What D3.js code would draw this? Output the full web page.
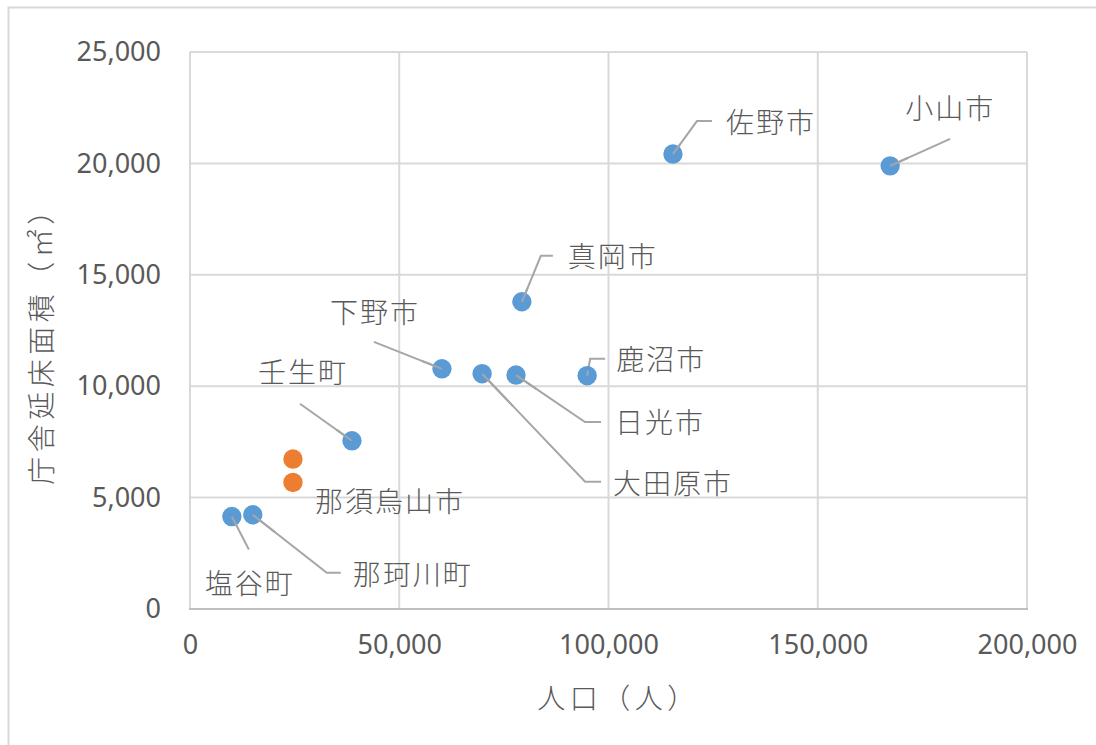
<!DOCTYPE html>
<html>
<head>
<meta charset="utf-8">
<script src="https://cdn.jsdelivr.net/npm/d3@7"></script>
<style>
  html, body { margin: 0; padding: 0; background: #fff; }
  svg { display: block; }
  text { fill: #595959; }
  .num { font-family: "Noto Sans", "Open Sans", sans-serif; font-size: 27px; }
  .jp { font-family: "Noto Sans CJK JP", "Noto Sans CJK SC", sans-serif; font-size: 28px; font-weight: 300; letter-spacing: 2px; }
  .title { letter-spacing: 4.5px; }
</style>
</head>
<body>
<svg id="chart" width="1096" height="745"></svg>
<script>
// Municipalities: population (x) and government building floor area in m² (y)
const names = ["塩谷町", "那珂川町", "那須烏山市", "那須烏山市", "壬生町", "下野市", "大田原市", "日光市", "鹿沼市", "真岡市", "佐野市", "小山市"];
const population = [10000, 15000, 24600, 24600, 38700, 60200, 69800, 77900, 94900, 79300, 115400, 167300];
const floorArea = [4150, 4230, 6730, 5680, 7550, 10780, 10560, 10500, 10470, 13790, 20420, 19890];
const series = [0, 0, 1, 1, 0, 0, 0, 0, 0, 0, 0, 0];
const showLabel = [true, true, false, true, true, true, true, true, true, true, true, true];

const xTicks = [0, 50000, 100000, 150000, 200000];
const yTicks = [0, 5000, 10000, 15000, 20000, 25000];
const xTitle = "人口（人）";
const yTitle = "庁舎延床面積（㎡）";

// Label placement (pixel offsets from the marker): text start + leader polyline
const labelLayout = [
  { dx: -27, dy: 65, leader: [[17, 33]] },
  { dx: 100, dy: 58, leader: [[74, 58], [88, 58]] },
  null,
  { dx: 22, dy: 18, leader: [] },
  { dx: -94, dy: -70, leader: [[-52, -37]] },
  { dx: -112, dy: -58, leader: [[-68, -27]] },
  { dx: 131, dy: 108, leader: [[103, 108], [119, 108]] },
  { dx: 99, dy: 46, leader: [[69, 47], [85, 47]] },
  { dx: 29, dy: -18, leader: [[3, -17], [18, -17]] },
  { dx: 46, dy: -47, leader: [[19, -46], [31, -46]] },
  { dx: 53, dy: -33, leader: [[24, -33], [39, -33]] },
  { dx: 15, dy: -59, leader: [[60, -27]] }
];

const seriesColors = ["#5b9bd5", "#ed7d31"];

const svg = d3.select("#chart");
const plot = { left: 190, right: 1027, top: 52, bottom: 609 };

const x = d3.scaleLinear().domain([0, 200000]).range([plot.left, plot.right]);
const y = d3.scaleLinear().domain([0, 25000]).range([plot.bottom, plot.top]);
const fmt = d3.format(",");

// chart area border
svg.append("rect")
  .attr("x", 8.5).attr("y", 7.5)
  .attr("width", 1100).attr("height", 760)
  .attr("fill", "#fff").attr("stroke", "#d9d9d9").attr("stroke-width", 2);

// gridlines
const grid = svg.append("g");
grid.selectAll("line.h").data(yTicks.filter(d => d > 0)).join("line")
  .attr("x1", plot.left).attr("x2", plot.right)
  .attr("y1", d => y(d)).attr("y2", d => y(d))
  .attr("stroke", "#d9d9d9").attr("stroke-width", 2);
grid.selectAll("line.v").data(xTicks).join("line")
  .attr("x1", d => x(d)).attr("x2", d => x(d))
  .attr("y1", plot.top).attr("y2", plot.bottom)
  .attr("stroke", "#d9d9d9").attr("stroke-width", 2);

// x axis baseline
svg.append("line")
  .attr("x1", plot.left - 1).attr("x2", plot.right + 1)
  .attr("y1", y(0)).attr("y2", y(0))
  .attr("stroke", "#bfbfbf").attr("stroke-width", 2);

// axis tick labels via d3 axes
const xAxis = svg.append("g")
  .attr("transform", `translate(0,${y(0)})`)
  .call(d3.axisBottom(x).tickValues(xTicks).tickFormat(fmt).tickSize(0).tickPadding(26));
xAxis.select(".domain").remove();
xAxis.selectAll("text").attr("class", "num").attr("fill", "#595959").attr("font-size", null).attr("font-family", null);

const yAxis = svg.append("g")
  .attr("transform", `translate(${plot.left},0)`)
  .call(d3.axisLeft(y).tickValues(yTicks).tickFormat(fmt).tickSize(0).tickPadding(29));
yAxis.select(".domain").remove();
yAxis.selectAll("text").attr("class", "num").attr("fill", "#595959").attr("font-size", null).attr("font-family", null);

// axis titles
svg.append("text").attr("class", "jp title")
  .attr("x", (plot.left + plot.right) / 2 + 10).attr("y", 697)
  .attr("text-anchor", "middle").attr("dominant-baseline", "central")
  .text(xTitle);
svg.append("text").attr("class", "jp title")
  .attr("transform", `translate(40,${(plot.top + plot.bottom) / 2 + 8}) rotate(-90)`)
  .attr("text-anchor", "middle").attr("dominant-baseline", "central")
  .text(yTitle);

const pts = names.map((n, i) => ({
  name: n, px: x(population[i]), py: y(floorArea[i]),
  s: series[i], label: showLabel[i] ? labelLayout[i] : null
}));

// leader lines
svg.append("g").selectAll("polyline")
  .data(pts.filter(p => p.label && p.label.leader.length))
  .join("polyline")
  .attr("points", p => [[p.px, p.py], ...p.label.leader.map(([dx, dy]) => [p.px + dx, p.py + dy])].map(q => q.join(",")).join(" "))
  .attr("fill", "none").attr("stroke", "#a6a6a6").attr("stroke-width", 2);

// markers
svg.append("g").selectAll("circle").data(pts).join("circle")
  .attr("cx", p => p.px).attr("cy", p => p.py).attr("r", 9.7)
  .attr("fill", p => seriesColors[p.s]);

// short leader stub visible over each labelled marker
svg.append("g").selectAll("line")
  .data(pts.filter(p => p.label && p.label.leader.length))
  .join("line")
  .attr("x1", p => p.px).attr("y1", p => p.py)
  .attr("x2", p => p.px + p.label.leader[0][0] * 0.3).attr("y2", p => p.py + p.label.leader[0][1] * 0.3)
  .attr("stroke", "#a6a6a6").attr("stroke-width", 2);

// data labels
svg.append("g").selectAll("text").data(pts.filter(p => p.label)).join("text")
  .attr("class", "jp")
  .attr("x", p => p.px + p.label.dx).attr("y", p => p.py + p.label.dy)
  .attr("dominant-baseline", "central")
  .text(p => p.name);
</script>
</body>
</html>
